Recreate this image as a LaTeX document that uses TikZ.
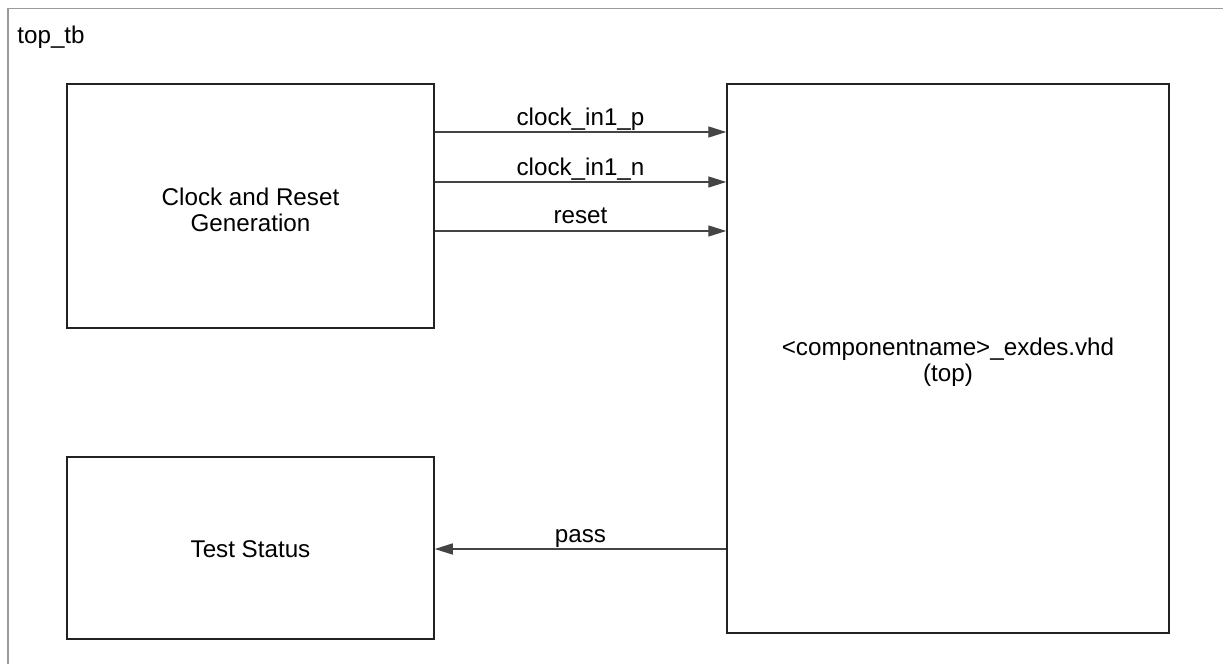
\documentclass[tikz,border=0pt]{standalone}
\usepackage{fontspec}
\setmainfont{Liberation Sans}
\usetikzlibrary{arrows.meta}
\definecolor{framegray}{HTML}{9A9A9A}
\definecolor{boxline}{HTML}{222222}
\definecolor{sigline}{HTML}{444444}
\tikzset{
  blk/.style={draw=boxline, line width=0.75pt, rectangle, inner sep=0pt},
  blktext/.style={inner sep=0pt, align=center, font=\fontsize{12.1}{13}\selectfont},
  sig/.style={draw=sigline, line width=0.7pt, -{Triangle[length=9pt,width=5.5pt]}},
  siglabel/.style={anchor=base, inner sep=0pt, font=\fontsize{12.1}{13}\selectfont},
  outer/.style={draw=framegray, line width=0.8pt}
}
\begin{document}
\begin{tikzpicture}[x=0.5pt,y=-0.5pt]
\useasboundingbox (0,0) rectangle (1223,664);
\clip (0,0) rectangle (1223,664);
\fill[white] (0,0) rectangle (1223,664);
\draw[outer] (8,8.5) rectangle (1250,690);
\node[anchor=base west, inner sep=0pt, font=\fontsize{12.1}{13}\selectfont] (tb) at (17,43) {top\_tb};
\node[blk, minimum width=183.5pt, minimum height=122pt] (clk) at (250.5,206) {};
\node[blktext] (clktext) at (250.5,210) {Clock and Reset\\Generation};
\node[blk, minimum width=183.5pt, minimum height=91pt] (stat) at (250.5,548) {};
\node[blktext] (stattext) at (250.5,549) {Test Status};
\node[blk, minimum width=221pt, minimum height=274.5pt] (top) at (948,358.5) {};
\node[blktext] (toptext) at (948,362.5) {<componentname>\_exdes.vhd\\(top)};
\draw[sig] (clk.east |- 0,132) -- node[siglabel, yshift=3.5pt] {clock\_in1\_p} (top.west |- 0,132);
\draw[sig] (clk.east |- 0,182) -- node[siglabel, yshift=3.5pt] {clock\_in1\_n} (top.west |- 0,182);
\draw[sig] (clk.east |- 0,231) -- node[siglabel, yshift=4pt] {reset} (top.west |- 0,231);
\draw[sig] (top.west |- 0,549) -- node[siglabel, yshift=3.5pt] {pass} (stat.east |- 0,549);
\end{tikzpicture}
\end{document}
